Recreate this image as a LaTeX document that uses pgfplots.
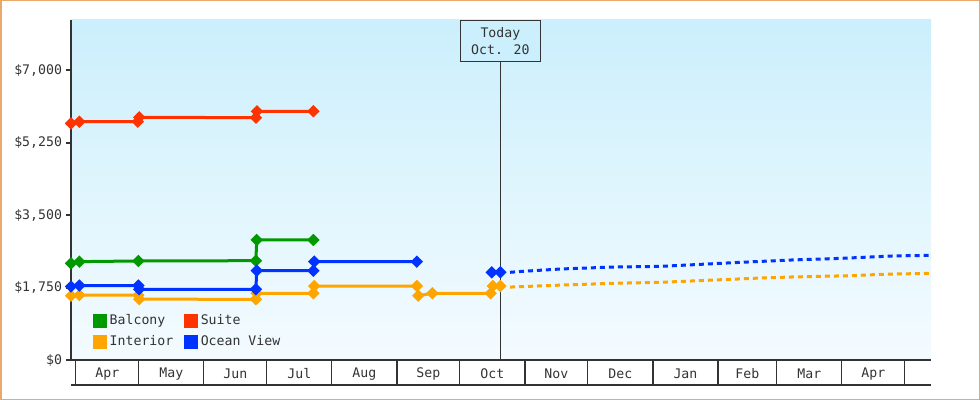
\documentclass[border=0pt]{standalone}
\usepackage{pgfplots}
\pgfplotsset{compat=1.18}
\usepackage{fontspec}
\setmainfont{DejaVu Sans Mono}
\definecolor{cgreen}{HTML}{009900}
\definecolor{cred}{HTML}{FF3300}
\definecolor{corange}{HTML}{FFA500}
\definecolor{cblue}{HTML}{0033FF}
\definecolor{axgray}{HTML}{333333}
\definecolor{bgtop}{HTML}{CBEFFC}
\definecolor{bgbot}{HTML}{F4FBFF}
\definecolor{bordc}{HTML}{E9A96A}
\pgfplotstableread{
x y
-2.3 2337
1.7 2377
29.8 2393
85.8 2400
86.2 2900
113.2 2900
}\balcony
\pgfplotstableread{
x y
-2.3 5720
1.7 5759
29.5 5759
30.2 5865
85.8 5856
86.3 6010
113.2 6010
}\suite
\pgfplotstableread{
x y
-2.3 1552
1.7 1568
29.8 1568
30.2 1470
85.8 1466
86.2 1612
113.2 1612
113.6 1788
162.5 1788
163.2 1554
169.9 1612
197.7 1612
198.7 1788
202.3 1788
}\interior
\pgfplotstableread{
x y
-2.3 1776
1.7 1800
29.8 1800
30.2 1708
85.8 1708
86.2 2158
113.2 2158
113.6 2376
162.5 2376
180 nan
198.2 2119
202.3 2119
}\ocean
\pgfplotstableread{
x y
206.9 2119
213 2143
231 2199
256 2247
278.4 2262
317 2361
341.2 2417
365 2457
388.9 2513
407.5 2530
}\oceanf
\pgfplotstableread{
x y
206.9 1762
232.3 1812
256.1 1853
278.4 1877
312.2 1950
326.8 1982
341.1 2006
355.4 2022
369.7 2038
384.3 2071
407.5 2095
}\interiorf
\begin{document}
\begin{tikzpicture}
\path[use as bounding box] (0bp,0bp) rectangle (980bp,400bp);
\begin{axis}[
  at={(71bp,40bp)}, anchor=south west,
  width=860bp, height=340bp, scale only axis,
  xmin=-2.3, xmax=407.5, ymin=0, ymax=8216,
  axis x line*=bottom, axis y line*=left,
  axis line style={-, draw=axgray},
  x axis line style={line width=1.2bp},
  y axis line style={line width=2bp},
  axis background/.style={top color=bgtop, bottom color=bgbot},
  font=\fontsize{13.2bp}{17bp}\selectfont,
  ytick={0,1750,3500,5250,7000},
  yticklabels={{\$0},{\$1,750},{\$3,500},{\$5,250},{\$7,000}},
  tick align=outside,
  major tick length=5.5bp,
  ytick style={line width=2bp, draw=axgray},
  xtick={15,45.5,76,106.5,137.5,168,198.5,229,259.5,290.5,320,349.5,380},
  xticklabels={Apr,May,Jun,Jul,Aug,Sep,Oct,Nov,Dec,Jan,Feb,Mar,Apr},
  xtick style={draw=none},
  xticklabel style={anchor=center, yshift=-8.5bp},
  tick label style={text=axgray},
  clip=false,
  unbounded coords=jump,
  legend columns=2,
  legend style={at={(0.0256,0.137)}, anchor=north west, draw=none, fill=none,
    inner sep=0pt, row sep=7bp, nodes={inner sep=1bp, text=axgray},
    /tikz/every odd column/.append style={column sep=1.5bp},
    /tikz/every even column/.append style={column sep=10bp}},
  legend cell align=left,
  legend image code/.code={\fill[#1] (0bp,-5.5bp) rectangle (11bp,5.5bp);},
  every axis plot/.append style={line width=3bp},
  mark options={solid, rotate=45},
]
% month boxes
\draw[axgray, line width=1.2bp] ([yshift=-25bp]axis cs:-2.3,0) -- ([yshift=-25bp]axis cs:407.5,0);
\draw[axgray, line width=1.2bp] (axis cs:0,0) -- ++(0bp,-25bp);
\draw[axgray, line width=1.2bp] (axis cs:30,0) -- ++(0bp,-25bp);
\draw[axgray, line width=1.2bp] (axis cs:61,0) -- ++(0bp,-25bp);
\draw[axgray, line width=1.2bp] (axis cs:91,0) -- ++(0bp,-25bp);
\draw[axgray, line width=1.2bp] (axis cs:122,0) -- ++(0bp,-25bp);
\draw[axgray, line width=1.2bp] (axis cs:153,0) -- ++(0bp,-25bp);
\draw[axgray, line width=1.2bp] (axis cs:183,0) -- ++(0bp,-25bp);
\draw[axgray, line width=1.2bp] (axis cs:214,0) -- ++(0bp,-25bp);
\draw[axgray, line width=1.2bp] (axis cs:244,0) -- ++(0bp,-25bp);
\draw[axgray, line width=1.2bp] (axis cs:275,0) -- ++(0bp,-25bp);
\draw[axgray, line width=1.2bp] (axis cs:306,0) -- ++(0bp,-25bp);
\draw[axgray, line width=1.2bp] (axis cs:334,0) -- ++(0bp,-25bp);
\draw[axgray, line width=1.2bp] (axis cs:365,0) -- ++(0bp,-25bp);
\draw[axgray, line width=1.2bp] (axis cs:395,0) -- ++(0bp,-25bp);
% today
\draw[axgray, line width=1bp] (axis cs:202.3,0) -- (axis cs:202.3,7233);
\node[draw=axgray, fill=bgtop, line width=1bp, minimum width=80bp, minimum height=40.7bp,
  anchor=north, align=center, inner sep=0pt, text=axgray] at (axis cs:202.3,8216) {Today\\Oct. 20};
\addplot[cgreen, mark=square*, mark size=2.9bp] table {\balcony};
\addlegendentry{Balcony}
\addplot[cred, mark=square*, mark size=2.9bp] table {\suite};
\addlegendentry{Suite}
\addplot[corange, mark=square*, mark size=2.9bp] table {\interior};
\addlegendentry{Interior}
\addplot[cblue, mark=square*, mark size=2.9bp] table {\ocean};
\addlegendentry{Ocean View}
\addplot[corange, no marks, dash pattern=on 5bp off 4bp, forget plot] table {\interiorf};
\addplot[cblue, no marks, dash pattern=on 5bp off 4bp, forget plot] table {\oceanf};
\end{axis}
\draw[bordc, line width=1.5bp] (0.75bp,0.75bp) rectangle (979.25bp,399.25bp);
\end{tikzpicture}
\end{document}
